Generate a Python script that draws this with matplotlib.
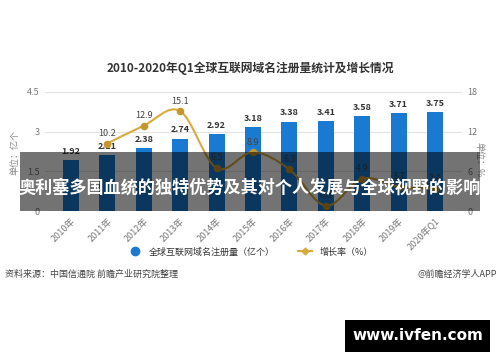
import numpy as np
import matplotlib.pyplot as plt
from matplotlib.path import Path
from matplotlib.patches import PathPatch, Rectangle
from matplotlib.lines import Line2D

plt.rcParams['font.family'] = ['Noto Sans CJK SC', 'DejaVu Sans']

# 数据
years = ['2010年', '2011年', '2012年', '2013年', '2014年', '2015年',
         '2016年', '2017年', '2018年', '2019年', '2020年Q1']
domains = [1.92, 2.11, 2.38, 2.74, 2.92, 3.18, 3.38, 3.41, 3.58, 3.71, 3.75]
growth_years = years[1:]
growth = [10.2, 12.9, 15.1, 6.5, 8.9, 6.3, 0.8, 4.9, 3.7, 3.4]

bar_color = '#1a7ad1'
line_color = '#d9aa3c'
marker_color = '#c49630'

fig = plt.figure(figsize=(5, 3.62), dpi=100)
ax = fig.add_axes([0.09, 0.417, 0.834, 0.329])
ax2 = ax.twinx()

x = np.arange(len(years))
ax.bar(x, domains, width=0.44, color=bar_color, zorder=2)
for xi, v in zip(x, domains):
    ax.annotate(f'{v:.2f}', (xi, v), xytext=(0, 3), textcoords='offset points',
                ha='center', va='bottom', fontsize=6.5, color='#333333',
                fontweight='bold')

ax.set_ylim(0, 4.5)
ax.set_yticks([0, 1.5, 3, 4.5])
ax.set_yticklabels(['0', '1.5', '3', '4.5'])
ax.set_xlim(-0.71, 10.74)
ax.set_xticks(x)
ax.set_xticklabels(years, rotation=45, ha='right', rotation_mode='anchor')
ax.grid(axis='y', color='#e3e3e3', linewidth=0.8, zorder=0)
ax.tick_params(axis='both', length=0, labelsize=6.5, labelcolor='#777777', pad=4)
for s in ax.spines.values():
    s.set_visible(False)

# 增长率（平滑曲线）
gx = np.array([years.index(y) for y in growth_years], dtype=float)
gy = np.array(growth, dtype=float)
pts = np.column_stack([gx, gy])
verts = [pts[0]]
codes = [Path.MOVETO]
n = len(pts)
for i in range(n - 1):
    p0 = pts[i - 1] if i > 0 else pts[i]
    p1 = pts[i]
    p2 = pts[i + 1]
    p3 = pts[i + 2] if i + 2 < n else pts[i + 1]
    c1 = p1 + (p2 - p0) / 6
    c2 = p2 - (p3 - p1) / 6
    verts += [c1, c2, p2]
    codes += [Path.CURVE4] * 3
ax2.add_patch(PathPatch(Path(verts, codes), facecolor='none',
                        edgecolor=line_color, linewidth=1.5, zorder=3))
ax2.plot(gx, gy, 'o', color=marker_color, markersize=4.5, zorder=4)
for xi, v in zip(gx, gy):
    ax2.annotate(f'{v:g}', (xi, v), xytext=(0, 4), textcoords='offset points',
                 ha='center', va='bottom', fontsize=6.5, color='#444444')

ax2.set_ylim(0, 18)
ax2.set_yticks([0, 6, 12, 18])
ax2.tick_params(axis='y', length=0, labelsize=6.5, labelcolor='#777777', pad=4)
for s in ax2.spines.values():
    s.set_visible(False)

fig.text(0.03, 0.58, '单位：亿个', rotation=90, ha='center', va='center',
         fontsize=6.5, color='#888888')
fig.text(0.958, 0.56, '单位：%', rotation=270, ha='center', va='center',
         fontsize=6.5, color='#888888')

fig.text(0.5, 0.812, '2010-2020年Q1全球互联网域名注册量统计及增长情况',
         ha='center', va='center', fontsize=8.5, fontweight='bold', color='#333333')

handles = [
    Line2D([], [], marker='o', linestyle='none', color=bar_color, markersize=6),
    Line2D([], [], marker='D', color=line_color, linewidth=1.5, markersize=3.5),
]
fig.legend(handles, ['全球互联网域名注册量（亿个）', '增长率（%）'],
           loc='center', bbox_to_anchor=(0.5, 0.304), ncol=2, frameon=False,
           fontsize=6.5, handlelength=1.6, columnspacing=2.5,
           labelcolor='#333333')

fig.text(0.01, 0.243, '资料来源：中国信通院 前瞻产业研究院整理',
         ha='left', va='center', fontsize=6.5, color='#444444')
fig.text(0.995, 0.243, '@前瞻经济学人APP',
         ha='right', va='center', fontsize=6.5, color='#444444')

# 覆盖横幅
fig.patches.append(Rectangle((0.04, 0.417), 0.92, 0.163, transform=fig.transFigure,
                             facecolor='black', alpha=0.55, zorder=10))
fig.text(0.5, 0.483, '奥利塞多国血统的独特优势及其对个人发展与全球视野的影响',
         ha='center', va='center', fontsize=12.3, fontweight='bold',
         color='white', zorder=11)

fig.patches.append(Rectangle((0.69, 0.028), 0.29, 0.088, transform=fig.transFigure,
                             facecolor='black', zorder=10))
fig.text(0.835, 0.072, 'www.ivfen.com', ha='center', va='center', fontsize=11,
         fontweight='bold', color='white', family='DejaVu Sans', zorder=11)

fig.savefig('out.png', dpi=100)
